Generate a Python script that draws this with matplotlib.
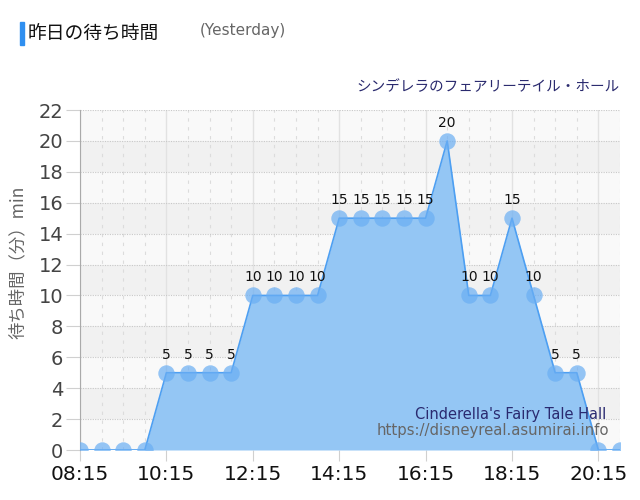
import matplotlib
matplotlib.use("Agg")
import matplotlib.pyplot as plt
from matplotlib.patches import Rectangle
import numpy as np

times = ["08:15", "08:45", "09:15", "09:45", "10:15", "10:45", "11:15", "11:45",
         "12:15", "12:45", "13:15", "13:45", "14:15", "14:45", "15:15", "15:45",
         "16:15", "16:45", "17:15", "17:45", "18:15", "18:45", "19:15", "19:45",
         "20:15", "20:45"]
waits = [0, 0, 0, 0, 5, 5, 5, 5, 10, 10, 10, 10, 15, 15, 15, 15, 15, 20, 10, 10,
         15, 10, 5, 5, 0, 0]
xtick_labels = ["08:15", "10:15", "12:15", "14:15", "16:15", "18:15", "20:15"]
yticks = list(range(0, 23, 2))

title = "昨日の待ち時間"
subtitle_en = "(Yesterday)"
attraction = "シンデレラのフェアリーテイル・ホール"
attraction_en = "Cinderella's Fairy Tale Hall"
url = "https://disneyreal.asumirai.info"
ylabel = "待ち時間（分）min"

JP = ["Noto Sans CJK JP", "DejaVu Sans"]
plt.rcParams['font.family'] = ["DejaVu Sans", "Noto Sans CJK JP"]

fig = plt.figure(figsize=(6.4, 5.0), dpi=100)
ax = fig.add_axes([80/640, 50/500, 540/640, 340/500])

x = np.arange(len(times))
n = len(times)

# background bands
for i, y0 in enumerate(range(0, 22, 2)):
    col = "#f9f9f9" if i % 2 == 0 else "#f1f1f1"
    ax.axhspan(y0, y0 + 2, color=col, zorder=0, lw=0)

# grid
for xi in x:
    if times[xi] in xtick_labels:
        ax.axvline(xi, color="#e2e2e2", lw=1.0, zorder=1)
    else:
        ax.axvline(xi, color="#dcdcdc", lw=0.8, ls=(0, (3, 5)), zorder=1)
for yv in yticks:
    ax.axhline(yv, color="#c8c8c8", lw=0.8, ls=(0, (1, 1.2)), zorder=1)

ax.fill_between(x, waits, 0, color="#94c6f4", alpha=1.0, zorder=2, lw=0)
ax.plot(x, waits, color="#4d9ff2", lw=1.2, zorder=3)
ax.scatter(x, waits, s=140, color="#6aaef3", alpha=0.7, zorder=4, lw=0)

for xi, v in zip(x, waits):
    if v > 0:
        ax.annotate(str(v), (xi, v), xytext=(0, 8), textcoords="offset points",
                    ha="center", va="bottom", fontsize=10, color="#111111", zorder=5)

ax.set_xlim(0, n - 1)
ax.set_ylim(0, 22)
ax.set_yticks(yticks)
ax.set_yticklabels([str(t) for t in yticks], fontsize=14, color="#444444")
tick_pos = [times.index(t) for t in xtick_labels]
ax.set_xticks(tick_pos)
ax.set_xticklabels(xtick_labels, fontsize=14.5, color="#111111")
ax.tick_params(axis="y", length=10, color="#d0d0d0", pad=2)
ax.tick_params(axis="x", length=8, color="#d0d0d0", pad=3)
for s in ["top", "right", "bottom"]:
    ax.spines[s].set_visible(False)
ax.spines["left"].set_color("#aaaaaa")

fig.text(18/640, 1 - 262/500, ylabel, family=JP, fontsize=12.5, color="#666666",
         rotation=90, ha="center", va="center")

# watermark texts
ax.text(0.975, 0.105, attraction_en, transform=ax.transAxes, ha="right", va="center",
        fontsize=10.5, color="#2a2a70", zorder=6)
ax.text(0.98, 0.058, url, transform=ax.transAxes, ha="right", va="center",
        fontsize=10.7, color="#666666", zorder=6)

# title
fig.patches.append(Rectangle((20/640, 1 - 45/500), 4/640, 23/500, transform=fig.transFigure,
                             color="#2f8ff0", zorder=5))
fig.text(28/640, 1 - 33/500, title, family=JP, fontsize=13.5, color="#111111", va="center")
fig.text(200/640, 1 - 31/500, subtitle_en, fontsize=11, color="#666666", va="center")
fig.text(620/640, 1 - 87/500, attraction, family=JP, fontsize=10.5, color="#2a2a6e",
         ha="right", va="center")

fig.savefig("out.png", dpi=100)
